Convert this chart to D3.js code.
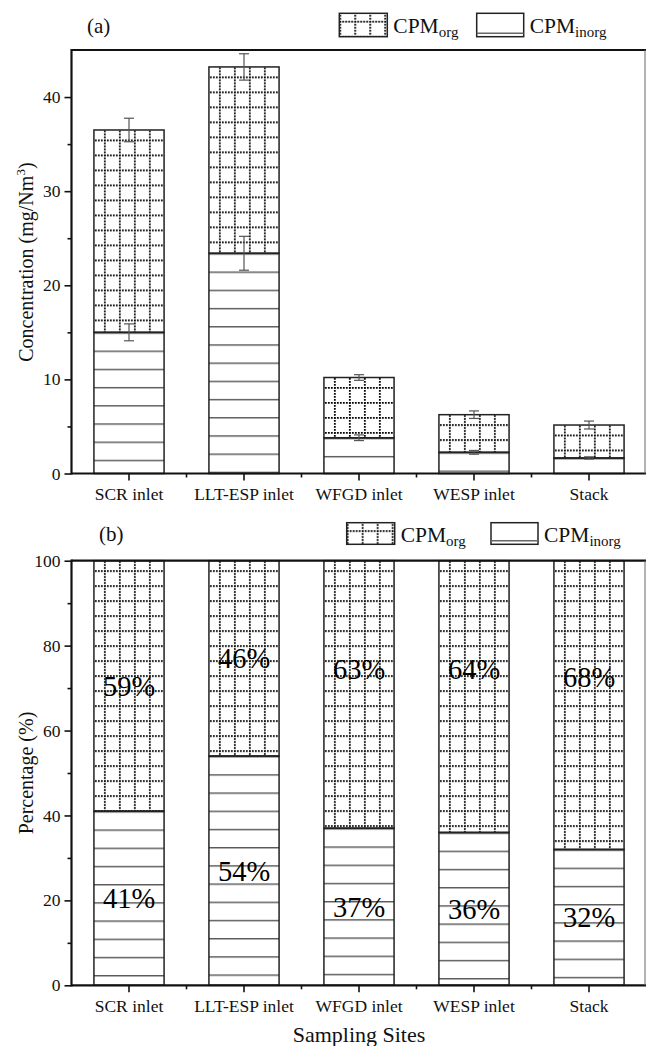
<!DOCTYPE html>
<html>
<head>
<meta charset="utf-8">
<script src="https://cdn.jsdelivr.net/npm/d3@7"></script>
<style>
    body { margin: 0; background: #fff; }
    svg { display: block; font-family: "Liberation Serif", "Times New Roman", serif; }
</style>
</head>
<body>
<svg id="grafico" width="646" height="1046"></svg>

<script>
    // datos
    const sites = ["SCR inlet", "LLT-ESP inlet", "WFGD inlet", "WESP inlet", "Stack"];
    const inorg = [15.0, 23.4, 3.8, 2.25, 1.65];     // mg/Nm3
    const org = [21.5, 19.8, 6.4, 4.0, 3.5];         // mg/Nm3
    const inorgErr = [0.9, 1.8, 0.3, 0.2, 0.12];
    const totalErr = [1.25, 1.4, 0.3, 0.4, 0.42];
    const pctInorg = [41, 54, 37, 36, 32];
    const pctOrg = [59, 46, 63, 64, 68];
    const orgLabelAt = [70.5, 77, 74.5, 74.5, 72.5];  // centro de la etiqueta (%)
    const ticksA = [0, 10, 20, 30, 40];
    const minorA = [5, 15, 25, 35];
    const ticksB = [0, 20, 40, 60, 80, 100];
    const minorB = [10, 30, 50, 70, 90];

    const svg = d3.select("#grafico");
    const defs = svg.append("defs");
    const BORDE = "#222";
    const FUENTE = "'Liberation Serif', 'Times New Roman', serif";

    function patronOrg(id, x0, y0) {
        let p = defs.append("pattern").attr("id", id)
            .attr("patternUnits", "userSpaceOnUse")
            .attr("x", x0).attr("y", y0).attr("width", 15).attr("height", 15);
        p.append("line").attr("x1", 0).attr("x2", 15).attr("y1", 0.9).attr("y2", 0.9);
        p.append("line").attr("x1", 0.9).attr("x2", 0.9).attr("y1", 0).attr("y2", 15);
        p.selectAll("line").attr("stroke", "#000").attr("stroke-width", 1.8)
            .attr("stroke-dasharray", "1.8,1.2");
        return `url(#${id})`;
    }

    function patronInorg(id, x0, y0) {
        let p = defs.append("pattern").attr("id", id)
            .attr("patternUnits", "userSpaceOnUse")
            .attr("x", x0).attr("y", y0).attr("width", 300).attr("height", 18.2);
        p.append("line").attr("x1", 0).attr("x2", 300).attr("y1", 0.7).attr("y2", 0.7)
            .attr("stroke", "#5a5a5a").attr("stroke-width", 1.4);
        return `url(#${id})`;
    }

    function configuracion(top, bottom, maxY) {
        let left = 71.5, right = 646.5;
        let x = d3.scaleBand().domain(sites).range([left, right])
            .paddingInner(0.39).paddingOuter(0.195);
        let y = d3.scaleLinear().domain([0, maxY]).range([bottom, top]);
        return { left, right, top, bottom, x, y };
    }

    function dibujarEjes(conf, mayores, menores) {
        let { x, y, left, right, top, bottom } = conf;

        let g = svg.append("g");
        g.append("g").attr("transform", `translate(${left},0)`)
            .call(d3.axisLeft(y).tickValues(menores).tickSize(4).tickSizeOuter(0).tickFormat(""));
        g.append("g").attr("transform", `translate(${left},0)`)
            .call(d3.axisLeft(y).tickValues(mayores).tickSize(7).tickPadding(4).tickSizeOuter(0));

        g.append("g").attr("transform", `translate(0,${bottom})`)
            .call(d3.axisBottom(x).tickSize(7).tickPadding(7).tickSizeOuter(0));

        let limites = sites.slice(1).map(s => x(s) - x.step() * x.paddingInner() / 2);
        g.selectAll(".menorX").data(limites).enter().append("line")
            .attr("x1", d => d).attr("x2", d => d)
            .attr("y1", bottom).attr("y2", bottom + 4);

        g.selectAll(".domain").remove();
        g.selectAll("g").attr("font-family", null).attr("font-size", null);
        g.selectAll("text").style("font-family", FUENTE).attr("font-size", 17.5).attr("fill", "#111");
        g.selectAll("line").attr("stroke", "#111").attr("stroke-width", 1.6);

        // marco
        g.append("line").attr("x1", left).attr("x2", right).attr("y1", top).attr("y2", top)
            .attr("stroke", "#111").attr("stroke-width", 2.2);
        g.append("line").attr("x1", left).attr("x2", right).attr("y1", bottom).attr("y2", bottom)
            .attr("stroke", "#111").attr("stroke-width", 2.2);
        g.append("line").attr("x1", left).attr("x2", left).attr("y1", top - 1.1).attr("y2", bottom + 1.1)
            .attr("stroke", "#111").attr("stroke-width", 2.2);
        g.append("line").attr("x1", 645).attr("x2", 645).attr("y1", top).attr("y2", bottom)
            .attr("stroke", "#666").attr("stroke-width", 1);
    }

    function dibujarBarras(conf, abajo, arriba, clave) {
        let { x, y } = conf;
        let g = svg.append("g");
        sites.forEach((s, i) => {
            let x0 = x(s), w = x.bandwidth();
            let yInorgTop = y(abajo[i]);
            let yOrgTop = y(abajo[i] + arriba[i]);
            g.append("rect").attr("x", x0).attr("y", yInorgTop)
                .attr("width", w).attr("height", y(0) - yInorgTop)
                .attr("fill", patronInorg(`in-${clave}-${i}`, x0, yInorgTop))
                .attr("stroke", BORDE).attr("stroke-width", 1.5);
            g.append("rect").attr("x", x0).attr("y", yOrgTop)
                .attr("width", w).attr("height", yInorgTop - yOrgTop)
                .attr("fill", patronOrg(`or-${clave}-${i}`, x0 + 10, yOrgTop + 9.5))
                .attr("stroke", BORDE).attr("stroke-width", 1.5);
        });
        return g;
    }

    function dibujarErrores(conf, g) {
        let { x, y } = conf;
        let barras = [];
        sites.forEach((s, i) => {
            barras.push({ s, v: inorg[i], e: inorgErr[i] });
            barras.push({ s, v: inorg[i] + org[i], e: totalErr[i] });
        });
        let eb = g.selectAll(".err").data(barras).enter().append("g")
            .attr("stroke", "#555").attr("stroke-width", 1.2);
        let cx = d => x(d.s) + x.bandwidth() / 2;
        eb.append("line").attr("x1", cx).attr("x2", cx)
            .attr("y1", d => y(d.v - d.e)).attr("y2", d => y(d.v + d.e));
        eb.append("line").attr("x1", d => cx(d) - 5).attr("x2", d => cx(d) + 5)
            .attr("y1", d => y(d.v - d.e)).attr("y2", d => y(d.v - d.e));
        eb.append("line").attr("x1", d => cx(d) - 5).attr("x2", d => cx(d) + 5)
            .attr("y1", d => y(d.v + d.e)).attr("y2", d => y(d.v + d.e));
    }

    function dibujarLeyenda(xOrg, xInorg, y0, alto) {
        let g = svg.append("g");
        g.append("rect").attr("x", xOrg).attr("y", y0).attr("width", 48).attr("height", alto)
            .attr("fill", patronOrg(`ley-or-${y0}`, xOrg + 15, y0 + 7.5))
            .attr("stroke", BORDE).attr("stroke-width", 1.5);
        g.append("rect").attr("x", xInorg).attr("y", y0).attr("width", 47).attr("height", alto)
            .attr("fill", "none").attr("stroke", BORDE).attr("stroke-width", 1.5);
        g.append("line").attr("x1", xInorg).attr("x2", xInorg + 47)
            .attr("y1", y0 + alto - 3.5).attr("y2", y0 + alto - 3.5)
            .attr("stroke", "#666").attr("stroke-width", 1.6);

        [[xOrg + 54, "org"], [xInorg + 53, "inorg"]].forEach(([tx, sub]) => {
            let t = g.append("text").attr("x", tx).attr("y", y0 + 19.5)
                .attr("font-size", 21.5).attr("fill", "#111");
            t.append("tspan").text("CPM");
            t.append("tspan").attr("dy", 4).attr("font-size", 15).text(sub);
        });
    }

    function etiquetas(conf, valores, centros) {
        let { x, y } = conf;
        svg.append("g").selectAll("text").data(valores).enter().append("text")
            .attr("x", (d, i) => x(sites[i]) + x.bandwidth() / 2)
            .attr("y", (d, i) => y(centros[i]))
            .attr("dy", "0.35em")
            .attr("text-anchor", "middle")
            .attr("font-size", 28.5).attr("fill", "#000")
            .text(d => d + "%");
    }

    // ---- panel (a)
    let confA = configuracion(50, 473.5, 45);
    let gA = dibujarBarras(confA, inorg, org, "a");
    dibujarErrores(confA, gA);
    dibujarEjes(confA, ticksA, minorA);
    dibujarLeyenda(339.3, 476.7, 13.3, 23.4);
    svg.append("text").attr("x", 87).attr("y", 33).attr("font-size", 21).attr("fill", "#111").text("(a)");

    let tituloA = svg.append("text").attr("transform", `translate(33,262) rotate(-90)`)
        .attr("text-anchor", "middle").attr("font-size", 20).attr("fill", "#111");
    tituloA.append("tspan").text("Concentration (mg/Nm");
    tituloA.append("tspan").attr("dy", -8).attr("font-size", 13.5).text("3");
    tituloA.append("tspan").attr("dy", 8).text(")");

    // ---- panel (b)
    let confB = configuracion(560.7, 985.3, 100);
    dibujarBarras(confB, pctInorg, pctOrg, "b");
    dibujarEjes(confB, ticksB, minorB);
    dibujarLeyenda(346.7, 491, 522.7, 21.6);
    svg.append("text").attr("x", 99).attr("y", 541).attr("font-size", 21).attr("fill", "#111").text("(b)");

    etiquetas(confB, pctOrg, orgLabelAt);
    etiquetas(confB, pctInorg, pctInorg.map(v => v / 2));

    svg.append("text").attr("transform", `translate(33,773) rotate(-90)`)
        .attr("text-anchor", "middle").attr("font-size", 20).attr("fill", "#111")
        .text("Percentage (%)");
    svg.append("text").attr("x", 359).attr("y", 1042).attr("text-anchor", "middle")
        .attr("font-size", 22).attr("fill", "#111").text("Sampling Sites");
</script>
</body>
</html>
